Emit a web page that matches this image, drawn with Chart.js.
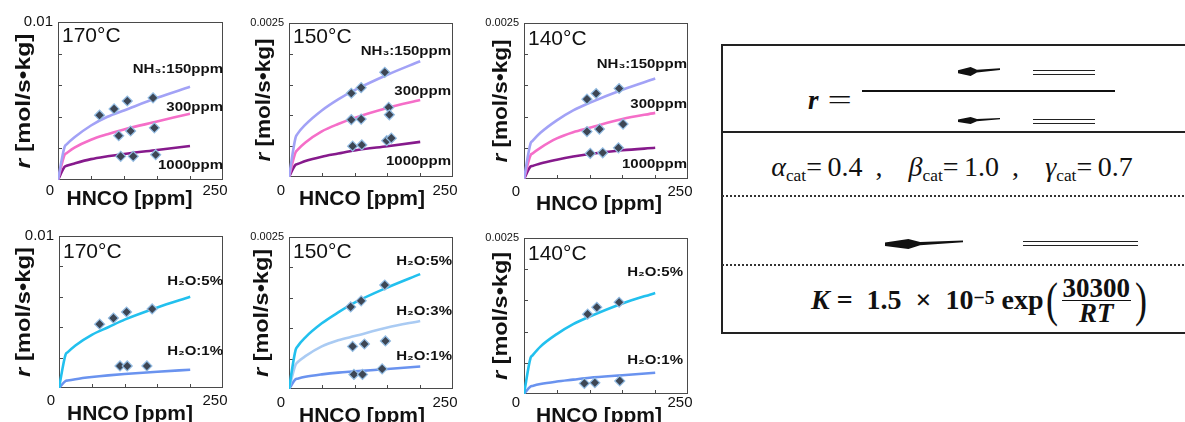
<!DOCTYPE html>
<html>
<head>
<meta charset="utf-8">
<script src="https://cdn.jsdelivr.net/npm/chart.js@4.4.0/dist/chart.umd.min.js"></script>
<style>
  html, body { margin: 0; padding: 0; width: 1185px; height: 422px; overflow: hidden; background: #fff; }
  canvas { position: absolute; }
  .abs { position: absolute; }
  .smear { position: absolute; background: #111;
    clip-path: polygon(0% 35%, 30% 0%, 45% 30%, 100% 15%, 100% 32%, 45% 62%, 30% 100%, 0% 70%); }
  .dbl { position: absolute; box-sizing: border-box; border-top: 1.5px solid #222; border-bottom: 1.5px solid #222; }
  .serif { font-family: "Liberation Serif", "Times New Roman", serif; color: #111; }
  .sub { font-size: 0.62em; vertical-align: -0.3em; font-style: normal; }
  .wide { display: inline-block; transform: scaleX(1.6); margin: 0 0 0 13px; }
  .frac { display: inline-flex; flex-direction: column; align-items: center; vertical-align: middle; font-size: 27px; line-height: 22px; margin: 0 2px; }
  .frac .num { border-bottom: 1.5px solid #111; padding: 0 1px 1px; }
  .frac .den { padding-top: 1px; }
  .par { font-size: 48px; font-weight: normal; line-height: 48px; display: inline-block; transform: scaleX(0.75); }
</style>
</head>
<body>

<!-- right-hand equation panel -->
<div class="abs" style="left:721px; top:44px; width:480px; height:290px; border:2px solid #222; box-sizing:border-box;"></div>
<div class="abs" style="left:722px; top:131px; width:470px; height:2px; background:#222;"></div>
<div class="abs" style="left:722px; top:195px; width:470px; border-top:2px dotted #333;"></div>
<div class="abs" style="left:722px; top:264px; width:470px; border-top:2px dotted #333;"></div>

<div class="abs serif" style="left:808px; top:85px; height:30px; line-height:30px; font-size:27px;"><b><i>r</i></b><span class="wide">=</span></div>
<div class="abs" style="left:862px; top:90px; width:253px; height:2px; background:#111;"></div>
<div class="smear" style="left:958px; top:67px; width:42px; height:9px;"></div>
<div class="dbl" style="left:1033px; top:70px; width:62px; height:5px;"></div>
<div class="smear" style="left:958px; top:117px; width:42px; height:7px;"></div>
<div class="dbl" style="left:1033px; top:119px; width:62px; height:5px;"></div>

<div class="abs serif" style="left:722px; width:460px; top:148px; height:38px; line-height:38px; text-align:center; font-size:28px; word-spacing:6px;">
  <i>α</i><span class="sub">cat</span>=&thinsp;0.4 ,&nbsp; <i>β</i><span class="sub">cat</span>=&thinsp;1.0 ,&nbsp; <i>γ</i><span class="sub">cat</span>=&thinsp;0.7
</div>

<div class="smear" style="left:885px; top:239px; width:78px; height:10px;"></div>
<div class="dbl" style="left:1023px; top:241px; width:115px; height:5px;"></div>

<div class="abs serif" style="left:750px; width:460px; top:274px; height:52px; display:flex; align-items:center; justify-content:center; font-size:28px; font-weight:bold; white-space:nowrap;">
  <i>K</i>&nbsp;=&nbsp; 1.5 &nbsp;×&nbsp; 10<sup style="font-size:0.7em; position:relative; top:-2px;">−5</sup>&nbsp;exp<span class="par">(</span><span class="frac"><span class="num">30300</span><span class="den"><i>RT</i></span></span><span class="par">)</span>
</div>

<script>
const SANS = '"Liberation Sans", Arial, Helvetica, sans-serif';

// x grid shared by all model curves [ppm HNCO]
const curveX = [0, 10, 13, 25, 50, 75, 100, 150, 200];

// model curves, NH3 variation (top row)
const nh150_170 = [0, 0.0021, 0.00225, 0.0027, 0.00345, 0.004, 0.0044, 0.0052, 0.0059];
const nh300_170 = [0, 0.0016, 0.0017, 0.00205, 0.00255, 0.0029, 0.0032, 0.0037, 0.0042];
const nh1000_170 = [0, 0.00084, 0.0009, 0.00105, 0.00132, 0.0015, 0.00165, 0.0019, 0.00215];
const nh150_150 = [0, 0.00064, 0.0007, 0.00085, 0.00108, 0.00126, 0.00141, 0.00166, 0.00188];
const nh300_150 = [0, 0.0004, 0.00044, 0.00056, 0.00074, 0.00086, 0.00096, 0.00112, 0.00125];
const nh1000_150 = [0, 0.0002, 0.00021, 0.00026, 0.00033, 0.00038, 0.00043, 0.0005, 0.00057];
const nh150_140 = [0, 0.00057, 0.00061, 0.00074, 0.00094, 0.0011, 0.00122, 0.00143, 0.00161];
const nh300_140 = [0, 0.00038, 0.00041, 0.0005, 0.00065, 0.00075, 0.00082, 0.00096, 0.00106];
const nh1000_140 = [0, 0.0002, 0.00021, 0.00025, 0.00031, 0.00036, 0.0004, 0.00046, 0.0005];

// model curves, H2O variation (bottom row)
const h5_170 = [0, 0.0022, 0.00234, 0.0028, 0.0035, 0.004, 0.0045, 0.0053, 0.006];
const h1_170 = [0, 0.00046, 0.00049, 0.00058, 0.00072, 0.00083, 0.00092, 0.00107, 0.0012];
const h5_150 = [0, 0.00064, 0.0007, 0.00085, 0.00108, 0.00126, 0.00142, 0.00167, 0.00189];
const h3_150 = [0, 0.0004, 0.00044, 0.00054, 0.0007, 0.0008, 0.00087, 0.00101, 0.00112];
const h1_150 = [0, 0.00016, 0.00017, 0.0002, 0.00024, 0.00027, 0.00029, 0.00033, 0.00037];
const h5_140 = [0, 0.00058, 0.00062, 0.00076, 0.00096, 0.00112, 0.00124, 0.00145, 0.00162];
const h1_140 = [0, 0.00012, 0.00013, 0.00016, 0.0002, 0.00023, 0.00026, 0.0003, 0.00034];

// measured points (diamonds)
const m170nhX = [63, 85, 105, 144, 92, 110, 146, 95, 114, 148];
const m170nhY = [0.0041, 0.0045, 0.005, 0.0052, 0.0028, 0.0031, 0.0033, 0.0015, 0.0015, 0.0016];
const m150nhX = [95, 110, 146, 95, 110, 152, 153, 97, 111, 149, 156];
const m150nhY = [0.00136, 0.00145, 0.0017, 0.00093, 0.00094, 0.00113, 0.00101, 0.0005, 0.00052, 0.00059, 0.00063];
const m140nhX = [96, 110, 145, 96, 115, 151, 101, 120, 144];
const m140nhY = [0.00128, 0.00137, 0.00145, 0.00076, 0.0008, 0.00088, 0.00041, 0.00042, 0.0005];
const m170hX = [62, 83, 103, 142, 93, 104, 134];
const m170hY = [0.0042, 0.0046, 0.005, 0.0052, 0.00145, 0.00145, 0.00145];
const m150hX = [94, 110, 146, 97, 115, 147, 99, 112, 142];
const m150hY = [0.00135, 0.00145, 0.00171, 0.0007, 0.00074, 0.00079, 0.00024, 0.00024, 0.00033];
const m140hX = [97, 111, 145, 92, 108, 146];
const m140hY = [0.00128, 0.00139, 0.00147, 0.00017, 0.00018, 0.00021];

// axis ticks
const xTickLabels = { 0: '0', 250: '250' };
const yMaxSmall = 0.0025, yMaxBig = 0.01;

const COL = {
  nh150: '#a2a2f6', nh300: '#f56ec8', nh1000: '#861a8c',
  h5: '#22c0ee', h3: '#aacbf3', h1: '#6a93ef'
};

// layout of each small panel: box = plot frame [left, top, right, bottom] on the page
const panels = [
  { box: [58, 22, 223, 180], yMax: yMaxBig, yLabel: '0.01', yFont: 15, xPad: 2, temp: '170°C', tempDy: 14,
    yTitleDx: 34, yTitleLen: 135, xTitleDx: -11, xTitleDy: 19, labelRight: 0,
    curves: [['NH₃:150ppm', nh150_170, COL.nh150, 48], ['300ppm', nh300_170, COL.nh300, 86], ['1000ppm', nh1000_170, COL.nh1000, 144]],
    mx: m170nhX, my: m170nhY },
  { box: [289, 23, 453, 177], yMax: yMaxSmall, yLabel: '0.0025', yFont: 11, xPad: 5, temp: '150°C', tempDy: 14,
    yTitleDx: 25, yTitleLen: 123, xTitleDx: -9, xTitleDy: 22, labelRight: 2,
    curves: [['NH₃:150ppm', nh150_150, COL.nh150, 29], ['300ppm', nh300_150, COL.nh300, 69], ['1000ppm', nh1000_150, COL.nh1000, 139]],
    mx: m150nhX, my: m150nhY },
  { box: [524, 23, 688, 179], yMax: yMaxSmall, yLabel: '0.0025', yFont: 11, xPad: 4, temp: '140°C', tempDy: 16,
    yTitleDx: 23, yTitleLen: 123, xTitleDx: -7, xTitleDy: 25, labelRight: 1,
    curves: [['NH₃:150ppm', nh150_140, COL.nh150, 42], ['300ppm', nh300_140, COL.nh300, 82], ['1000ppm', nh1000_140, COL.nh1000, 142]],
    mx: m140nhX, my: m140nhY },
  { box: [59, 236, 223, 388], yMax: yMaxBig, yLabel: '0.01', yFont: 15, xPad: 4, temp: '170°C', tempDy: 16,
    yTitleDx: 35, yTitleLen: 130, xTitleDx: -11, xTitleDy: 26, labelRight: 0,
    curves: [['H₂O:5%', h5_170, COL.h5, 46], ['H₂O:1%', h1_170, COL.h1, 116]],
    mx: m170hX, my: m170hY },
  { box: [289, 237, 453, 389], yMax: yMaxSmall, yLabel: '0.0025', yFont: 11, xPad: 5, temp: '150°C', tempDy: 15,
    yTitleDx: 27, yTitleLen: 128, xTitleDx: -9, xTitleDy: 27, labelRight: 1,
    curves: [['H₂O:5%', h5_150, COL.h5, 25], ['H₂O:3%', h3_150, COL.h3, 75], ['H₂O:1%', h1_150, COL.h1, 120]],
    mx: m150hX, my: m150hY },
  { box: [524, 238, 688, 394], yMax: yMaxSmall, yLabel: '0.0025', yFont: 11, xPad: 0, temp: '140°C', tempDy: 16,
    yTitleDx: 23, yTitleLen: 128, xTitleDx: -7, xTitleDy: 22, labelRight: 5,
    curves: [['H₂O:5%', h5_140, COL.h5, 35], ['H₂O:1%', h1_140, COL.h1, 123]],
    mx: m140hX, my: m140hY }
];

const AX_W = 58, AX_H = 44, PAD_T = 22, PAD_R = 22;
const panelOf = {};

// text squeezed/stretched horizontally to look like the original artwork
function wideText(ctx, text, x, y, sx, align) {
  const w = ctx.measureText(text).width * sx;
  ctx.save();
  ctx.translate(align === 'right' ? x - w : align === 'center' ? x - w / 2 : x, y);
  ctx.scale(sx, 1);
  ctx.textAlign = 'left';
  ctx.fillText(text, 0, 0);
  ctx.restore();
}

const decor = {
  id: 'decor',
  beforeDatasetsDraw(chart) {
    const { ctx, chartArea: a, scales: { x, y } } = chart;
    ctx.save();
    ctx.strokeStyle = '#4a4a4a';
    ctx.lineWidth = 1;
    ctx.strokeRect(a.left + 0.5, a.top + 0.5, a.right - a.left - 1, a.bottom - a.top - 1);
    ctx.beginPath();
    y.ticks.forEach(t => {
      if (t.value <= 0 || t.value >= y.max * 0.999) return;
      const py = Math.round(y.getPixelForValue(t.value)) + 0.5;
      ctx.moveTo(a.left, py); ctx.lineTo(a.left + 4, py);
    });
    x.ticks.forEach(t => {
      if (t.value <= 0 || t.value >= x.max) return;
      const px = Math.round(x.getPixelForValue(t.value)) + 0.5;
      ctx.moveTo(px, a.bottom); ctx.lineTo(px, a.bottom - 4);
    });
    ctx.stroke();
    ctx.restore();
  },
  afterDraw(chart) {
    const p = panelOf[chart.canvas.id];
    if (!p) return;
    const { ctx, chartArea: a } = chart;
    ctx.save();
    ctx.fillStyle = '#111';
    ctx.textBaseline = 'middle';

    // temperature
    ctx.font = `21px ${SANS}`;
    ctx.textAlign = 'left';
    ctx.fillText(p.temp, a.left + 4, a.top + p.tempDy);

    // series labels
    ctx.font = `bold 12.5px ${SANS}`;
    p.curves.forEach(c => wideText(ctx, c[0], a.right - p.labelRight, a.top + c[3], 1.2, 'right'));

    // x title
    ctx.font = `bold 21px ${SANS}`;
    ctx.textAlign = 'center';
    ctx.fillText('HNCO [ppm]', (a.left + a.right) / 2 + p.xTitleDx, a.bottom + p.xTitleDy);

    // y title, italic r
    ctx.translate(a.left - p.yTitleDx, (a.top + a.bottom) / 2);
    ctx.rotate(-Math.PI / 2);
    ctx.font = `italic bold 20px ${SANS}`;
    const w1 = ctx.measureText('r').width;
    ctx.font = `bold 20px ${SANS}`;
    const rest = ' [mol/s•kg]';
    const w2 = ctx.measureText(rest).width;
    const sx = p.yTitleLen / (w1 + w2);
    ctx.scale(sx, 1);
    ctx.textAlign = 'left';
    const x0 = -(w1 + w2) / 2;
    ctx.font = `italic bold 20px ${SANS}`;
    ctx.fillText('r', x0, 0);
    ctx.font = `bold 20px ${SANS}`;
    ctx.fillText(rest, x0 + w1, 0);
    ctx.restore();
  }
};

panels.forEach((p, i) => {
  const [L, T, R, B] = p.box;
  const cv = document.createElement('canvas');
  cv.id = 'c' + (i + 1);
  cv.width = (R - L) + AX_W + PAD_R;
  cv.height = (B - T) + PAD_T + AX_H;
  cv.style.left = (L - AX_W) + 'px';
  cv.style.top = (T - PAD_T) + 'px';
  document.body.appendChild(cv);
  panelOf[cv.id] = p;

  const datasets = [{
    data: p.mx.map((x, k) => ({ x, y: p.my[k] })),
    showLine: false,
    pointStyle: 'rectRot',
    pointRadius: 5,
    backgroundColor: '#3d4654',
    borderColor: '#93bce3',
    pointBorderWidth: 1.2,
    order: 0
  }];
  p.curves.forEach(c => datasets.push({
    data: curveX.map((x, k) => ({ x, y: c[1][k] })),
    borderColor: c[2],
    borderWidth: 2.6,
    pointRadius: 0,
    cubicInterpolationMode: 'monotone',
    fill: false,
    order: 1
  }));

  new Chart(cv, {
    type: 'line',
    data: { datasets },
    options: {
      responsive: false,
      animation: false,
      layout: { padding: { left: 0, top: PAD_T, right: PAD_R, bottom: 0 } },
      plugins: { legend: { display: false }, tooltip: { enabled: false } },
      scales: {
        x: {
          type: 'linear', min: 0, max: 250,
          grid: { display: false, drawTicks: false },
          border: { display: false },
          ticks: {
            stepSize: 50, autoSkip: false, maxRotation: 0, labelOffset: -8, padding: p.xPad,
            color: '#111', font: { family: SANS, size: 15 },
            callback: v => xTickLabels[v] || ''
          },
          afterFit: s => { s.height = AX_H; }
        },
        y: {
          min: 0, max: p.yMax,
          grid: { display: false, drawTicks: false },
          border: { display: false },
          ticks: {
            stepSize: p.yMax / 5, autoSkip: false, padding: 5,
            color: '#111', font: { family: SANS, size: p.yFont },
            callback: v => (Math.abs(v - p.yMax) < p.yMax * 1e-6 ? p.yLabel : '')
          },
          afterFit: s => { s.width = AX_W; }
        }
      }
    },
    plugins: [decor]
  });
});
</script>
</body>
</html>
